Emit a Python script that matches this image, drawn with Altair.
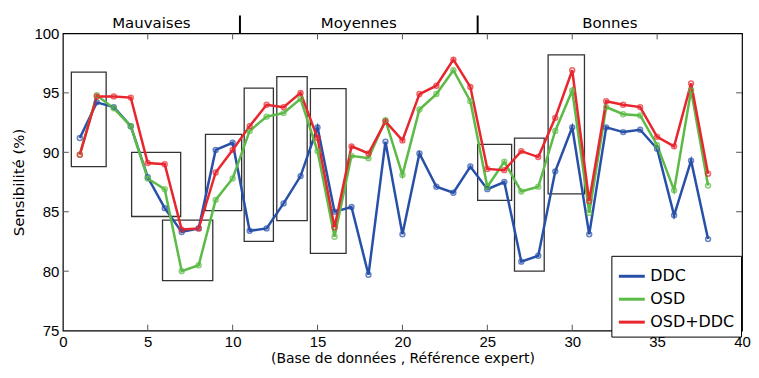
import altair as alt
import pandas as pd

# ---- data ----
idx = list(range(1, 39))
ddc = [91.2, 94.2, 93.8, 92.2, 87.9, 85.3, 83.3, 83.6, 90.2, 90.8,
       83.4, 83.6, 85.7, 88.0, 92.1, 85.0, 85.4, 79.7, 90.9, 83.1,
       89.9, 87.1, 86.6, 88.8, 86.9, 87.5, 80.8, 81.3, 88.4, 92.1,
       83.1, 92.1, 91.7, 91.9, 90.3, 84.7, 89.3, 82.7]
osd = [89.8, 94.8, 93.7, 92.2, 87.8, 86.9, 80.0, 80.5, 86.0, 87.8,
       91.8, 93.0, 93.3, 94.5, 90.1, 82.9, 89.7, 89.5, 92.7, 88.1,
       93.6, 94.9, 96.9, 94.3, 87.1, 89.2, 86.7, 87.1, 91.8, 95.2,
       84.9, 93.8, 93.2, 93.1, 90.6, 86.8, 95.2, 87.2]
osd_ddc = [89.8, 94.7, 94.7, 94.6, 89.1, 89.0, 83.5, 83.6, 88.3, 90.2,
           92.2, 94.0, 93.8, 95.0, 91.2, 83.7, 90.5, 89.9, 92.6, 91.0,
           94.9, 95.6, 97.8, 95.5, 88.6, 88.5, 90.1, 89.6, 92.9, 96.9,
           85.9, 94.3, 94.0, 93.8, 91.3, 90.5, 95.8, 88.2]
series_names = ["DDC", "OSD", "OSD+DDC"]
series_colors = ["#2850a8", "#5cbb46", "#e8262e"]

box_x1 = [0.5, 4.05, 5.87, 8.4, 10.68, 12.6, 14.58, 24.43, 26.6, 28.58]
box_x2 = [2.55, 6.94, 8.83, 10.53, 12.4, 14.39, 16.68, 26.43, 28.35, 30.72]
box_y1 = [88.8, 84.6, 79.2, 85.1, 82.5, 84.25, 81.5, 85.96, 80.0, 86.5]
box_y2 = [96.75, 90.0, 84.3, 91.5, 95.4, 96.37, 95.36, 90.66, 91.2, 98.2]

section_names = ["Mauvaises", "Moyennes", "Bonnes"]
section_start = [0, 10.43, 24.43]
section_end = [10.43, 24.43, 40]

x_ticks = [0, 5, 10, 15, 20, 25, 30, 35, 40]
y_ticks = [75, 80, 85, 90, 95, 100]

# ---- tables ----
rows = []
for name, vals in zip(series_names, [ddc, osd, osd_ddc]):
    for i, v in zip(idx, vals):
        rows.append({"i": i, "v": v, "s": name})
df = pd.DataFrame(rows)
boxes = pd.DataFrame({"x1": box_x1, "x2": box_x2, "y1": box_y1, "y2": box_y2})
sections = pd.DataFrame({"name": section_names, "a": section_start, "b": section_end})
sections["mid"] = (sections["a"] + sections["b"]) / 2
seps = pd.DataFrame({"x": section_end[:-1]})
xt = pd.DataFrame({"t": x_ticks[1:-1]})
yt = pd.DataFrame({"t": y_ticks[1:-1]})

xs = alt.Scale(domain=[0, 40], nice=False, zero=False)
ys = alt.Scale(domain=[75, 100], nice=False, zero=False)
cs = alt.Scale(domain=series_names, range=series_colors)

xaxis = alt.Axis(values=x_ticks, title="(Base de données , Référence expert)",
                 labelPadding=4, titlePadding=2, labelFlush=False, titleFontSize=14)
yaxis = alt.Axis(values=y_ticks, title="Sensibilité (%)", labelPadding=4, titlePadding=7,
                 labelFlush=False)

lines = alt.Chart(df).mark_line(strokeWidth=2.5).encode(
    x=alt.X("i:Q", scale=xs, axis=xaxis),
    y=alt.Y("v:Q", scale=ys, axis=yaxis),
    color=alt.Color("s:N", scale=cs, sort=series_names,
                    legend=alt.Legend(title=None, orient="none", legendX=550, legendY=223,
                                      symbolType="stroke", symbolSize=676,
                                      symbolStrokeWidth=3, labelFont="DejaVu Sans",
                                      labelFontSize=16, labelColor="black",
                                      strokeColor="black", fillColor="white",
                                      padding=6, rowPadding=-9, labelOffset=4)),
    order=alt.Order("i:Q"),
    detail="s:N",
)
points = alt.Chart(df).mark_point(shape="circle", filled=False, size=24, strokeWidth=1.5).encode(
    x=alt.X("i:Q", scale=xs),
    y=alt.Y("v:Q", scale=ys),
    color=alt.Color("s:N", scale=cs, legend=None),
)
rects = alt.Chart(boxes).mark_rect(fill=None, stroke="#333333", strokeWidth=1.3).encode(
    x=alt.X("x1:Q", scale=xs), x2="x2:Q",
    y=alt.Y("y1:Q", scale=ys), y2="y2:Q",
)
tb = alt.Chart(xt).mark_rule(color="#555555").encode(
    x=alt.X("t:Q", scale=xs), y=alt.datum(75, scale=ys), y2=alt.datum(75.5))
tt = alt.Chart(xt).mark_rule(color="#555555").encode(
    x=alt.X("t:Q", scale=xs), y=alt.datum(99.5, scale=ys), y2=alt.datum(100))
tl = alt.Chart(yt).mark_rule(color="#555555").encode(
    y=alt.Y("t:Q", scale=ys), x=alt.datum(0, scale=xs), x2=alt.datum(0.35))
tr = alt.Chart(yt).mark_rule(color="#555555").encode(
    y=alt.Y("t:Q", scale=ys), x=alt.datum(39.65, scale=xs), x2=alt.datum(40))
sep = alt.Chart(seps).mark_rule(color="black", strokeWidth=2).encode(
    x=alt.X("x:Q", scale=xs), y=alt.value(-18), y2=alt.value(0))
labels = alt.Chart(sections).mark_text(font="DejaVu Sans", fontSize=15, baseline="alphabetic",
                                       color="black").encode(
    x=alt.X("mid:Q", scale=xs), y=alt.value(-5), text="name:N")

chart = alt.layer(rects, tb, tt, tl, tr, lines, points, sep, labels).properties(
    width=681, height=298,
    autosize=alt.AutoSizeParams(type="none"),
    padding={"left": 55, "top": 25, "right": 9, "bottom": 39},
).configure_view(stroke="black", strokeWidth=1.2).configure_axis(
    domain=False, ticks=False, grid=False,
    labelFont="Liberation Sans", labelFontSize=15, labelColor="black",
    titleFont="DejaVu Sans", titleFontSize=15, titleFontWeight="normal", titleColor="black",
)
chart.save("out.html", embed_options={"renderer": "svg", "actions": False})
